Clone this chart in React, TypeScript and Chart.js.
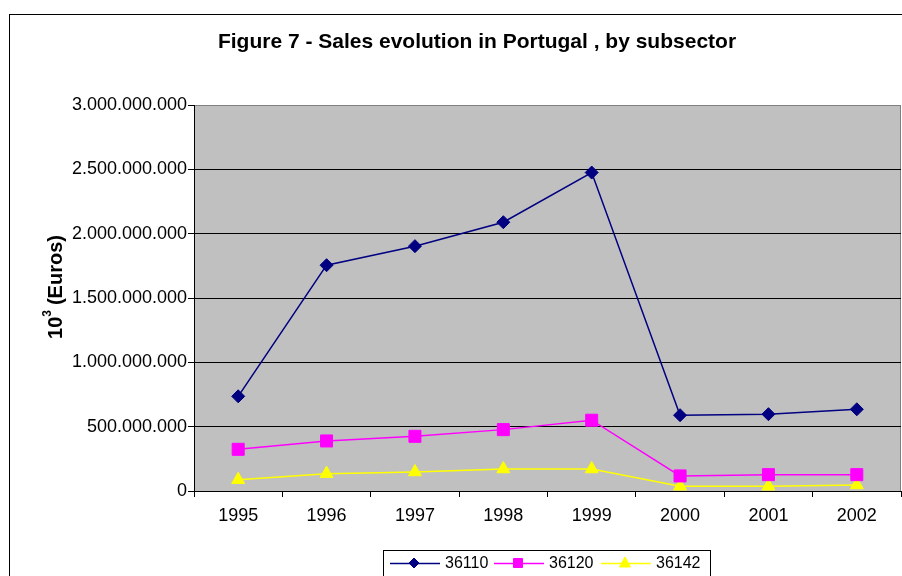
import React, { useEffect, useRef } from "react";
import { Chart, registerables } from "chart.js";

Chart.register(...registerables);

const years = ["1995", "1996", "1997", "1998", "1999", "2000", "2001", "2002"];
const s36110 = [736e6, 1755e6, 1903e6, 2089e6, 2475e6, 589e6, 597e6, 635e6];
const s36120 = [324e6, 389e6, 425e6, 477e6, 550e6, 117e6, 127e6, 127e6];
const s36142 = [88e6, 135e6, 148e6, 171e6, 171e6, 37e6, 37e6, 47e6];
const seriesNames = ["36110", "36120", "36142"];
const seriesColors = ["#000080", "#FF00FF", "#FFFF00"];
const seriesMarkers = ["rectRot", "rect", "triangle"];

const FONT = '"Liberation Sans", Arial, sans-serif';

const fmt = (v: number) => {
  const s = Math.round(v).toString();
  return s.replace(/\B(?=(\d{3})+(?!\d))/g, ".");
};

const decorPlugin = {
  id: "decor",
  beforeDraw(chart: any) {
    const { ctx, chartArea: a } = chart;
    ctx.save();
    ctx.fillStyle = "#FFFFFF";
    ctx.fillRect(0, 0, chart.width, chart.height);
    // outer frame
    ctx.strokeStyle = "#000000";
    ctx.lineWidth = 1;
    ctx.strokeRect(9.5, 14.5, 1200, 1200);
    // plot area background
    ctx.fillStyle = "#C0C0C0";
    ctx.fillRect(a.left, a.top, a.right - a.left, a.bottom - a.top);
    ctx.strokeStyle = "#808080";
    ctx.strokeRect(a.left + 0.5, a.top + 0.5, a.right - a.left - 1, a.bottom - a.top);
    ctx.restore();
  },
  afterDraw(chart: any) {
    const { ctx } = chart;
    ctx.save();
    // title
    ctx.fillStyle = "#000000";
    ctx.font = `bold 21px ${FONT}`;
    ctx.textAlign = "center";
    ctx.textBaseline = "alphabetic";
    ctx.fillText("Figure 7 - Sales evolution in Portugal , by subsector", 477, 48);
    // y axis title
    ctx.translate(56, 287);
    ctx.rotate(-Math.PI / 2);
    const t1 = "10";
    const t2 = "(Euros)";
    const big = `bold 20px ${FONT}`;
    const small = `bold 12px ${FONT}`;
    ctx.font = big;
    const w1 = ctx.measureText(t1).width;
    const w2 = ctx.measureText(t2).width;
    ctx.font = small;
    const ws = ctx.measureText("3").width;
    const gap = 5;
    const total = w1 + ws + gap + w2;
    let x = -total / 2;
    ctx.textAlign = "left";
    ctx.textBaseline = "alphabetic";
    ctx.font = big;
    ctx.fillText(t1, x, 6);
    x += w1;
    ctx.font = small;
    ctx.fillText("3", x, -5);
    x += ws + gap;
    ctx.font = big;
    ctx.fillText(t2, x, 6);
    ctx.restore();

    // legend
    ctx.save();
    ctx.strokeStyle = "#000000";
    ctx.lineWidth = 1;
    ctx.strokeRect(383.5, 550.5, 327, 40);
    const cy = 563;
    const starts = [390, 494, 601];
    seriesNames.forEach((name, i) => {
      const x0 = starts[i];
      ctx.strokeStyle = seriesColors[i];
      ctx.lineWidth = 1.5;
      ctx.beginPath();
      ctx.moveTo(x0, cy + 0.5);
      ctx.lineTo(x0 + 50, cy + 0.5);
      ctx.stroke();
      ctx.fillStyle = seriesColors[i];
      ctx.lineWidth = 1;
      const mx = x0 + 24;
      ctx.beginPath();
      if (i === 0) {
        ctx.moveTo(mx - 5, cy);
        ctx.lineTo(mx, cy - 5);
        ctx.lineTo(mx + 5, cy);
        ctx.lineTo(mx, cy + 5);
        ctx.closePath();
      } else if (i === 1) {
        ctx.rect(mx - 4.5, cy - 4.5, 9, 9);
      } else {
        ctx.moveTo(mx, cy - 6);
        ctx.lineTo(mx + 5.5, cy + 4);
        ctx.lineTo(mx - 5.5, cy + 4);
        ctx.closePath();
      }
      ctx.fill();
      ctx.stroke();
      ctx.fillStyle = "#000000";
      ctx.font = `16px ${FONT}`;
      ctx.textAlign = "left";
      ctx.textBaseline = "middle";
      ctx.fillText(name, x0 + 55, cy + 1);
    });
    ctx.restore();
  },
};

export default function App() {
  const ref = useRef<HTMLCanvasElement | null>(null);
  useEffect(() => {
    document.body.style.margin = "0";
    const canvas = ref.current;
    if (!canvas) return;
    const data = [s36110, s36120, s36142];
    const radii = [6.5, 8.5, 7.5];
    const chart = new Chart(canvas, {
      type: "line",
      data: {
        labels: years,
        datasets: seriesNames.map((name, i) => ({
          label: name,
          data: data[i],
          borderColor: seriesColors[i],
          backgroundColor: seriesColors[i],
          borderWidth: 1.5,
          pointStyle: seriesMarkers[i] as any,
          pointRadius: radii[i],
          pointHoverRadius: radii[i],
          pointBackgroundColor: seriesColors[i],
          pointBorderColor: seriesColors[i],
          pointBorderWidth: 1,
          tension: 0,
          fill: false,
          clip: false as any,
        })),
      },
      options: {
        responsive: false,
        animation: false,
        maintainAspectRatio: false,
        layout: { autoPadding: false, padding: { top: 105, left: 0, right: 1, bottom: 0 } },
        plugins: {
          legend: { display: false },
          title: { display: false },
          tooltip: { enabled: false },
        },
        scales: {
          x: {
            type: "category",
            offset: true,
            grid: {
              offset: true,
              drawOnChartArea: false,
              drawTicks: true,
              tickLength: 6,
              color: "#000000",
            },
            border: { color: "#000000", width: 1 },
            ticks: {
              color: "#000000",
              font: { family: FONT, size: 18 },
              padding: 8,
              maxRotation: 0,
              autoSkip: false,
            },
            afterFit: (s: any) => {
              s.height = 85;
              s.paddingLeft = 0;
              s.paddingRight = 0;
            },
          },
          y: {
            min: 0,
            max: 3000000000,
            grid: {
              color: (c: any) => (c.tick && c.tick.value === 3000000000 ? "#808080" : "#000000"),
              tickColor: "#000000",
              drawTicks: true,
              tickLength: 6,
              lineWidth: 1,
            },
            border: { color: "#000000", width: 1 },
            ticks: {
              stepSize: 500000000,
              color: "#000000",
              font: { family: FONT, size: 18 },
              padding: 1,
              callback: (v: any) => fmt(Number(v)),
            },
            afterFit: (s: any) => {
              s.width = 194;
              s.paddingTop = 0;
              s.paddingBottom = 0;
            },
          },
        },
      },
      plugins: [decorPlugin],
    });
    return () => chart.destroy();
  }, []);
  return (
    <div style={{ width: 902, height: 576, position: "relative" }}>
      <canvas ref={ref} width={902} height={576} style={{ width: 902, height: 576, display: "block" }} />
    </div>
  );
}
